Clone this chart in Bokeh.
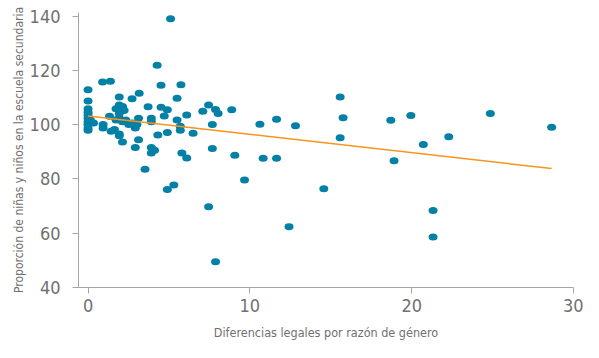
from bokeh.plotting import figure
from bokeh.models import Range1d, FixedTicker, ColumnDataSource
from bokeh.embed import file_html
from bokeh.resources import INLINE

# Data
legal_gap = [4.27, 0.90, 1.38, 4.51, 5.74, 0, 1.93, 2.72, 3.16, 5.50, 0, 1.93, 2.13, 1.73, 3.71, 4.51, 4.90,
             0, 0, 0, 0, 0, 0, 0, 0,
             2.23, 1.93, 1.33, 4.71, 6.10, 7.09, 7.45, 7.88, 8.04, 8.88,
             0.14, 0.34, 0.93, 0.93, 1.73, 1.93, 2.13, 2.33, 2.52, 2.72, 2.92, 3.02, 3.12, 3.91, 3.91, 5.50, 5.70, 5.70, 7.68,
             1.43, 1.63, 1.93, 1.93, 4.31, 4.90, 6.49,
             2.13, 3.12, 2.92, 3.91, 4.11, 3.91, 5.80, 6.10, 7.68, 9.07,
             3.52, 4.90, 5.30, 9.67, 5.10,
             10.62, 11.65, 12.82, 10.82, 11.65, 7.45, 12.42, 7.88,
             15.58, 15.76, 15.58, 14.57, 18.71, 19.95, 20.72, 18.91, 22.29, 24.86, 28.65, 21.32, 21.32]

ratio = [121.9, 115.7, 116.0, 114.5, 114.7, 112.8, 110.2, 109.5, 111.6, 109.7, 108.7, 107.2, 106.7, 105.8, 106.6, 106.4, 105.5,
         105.8, 104.6, 103.5, 102.3, 101.1, 100.0, 98.8, 97.9,
         105.2, 104.1, 103.1, 103.2, 103.5, 104.9, 107.2, 105.6, 104.1, 105.5,
         101.7, 100.6, 100.0, 98.8, 101.7, 102.3, 101.1, 101.7, 100.0, 100.6, 98.8, 100.0, 102.3, 102.3, 101.1, 101.7, 99.4, 97.9, 100.0,
         97.6, 98.2, 96.5, 95.9, 96.2, 97.1, 96.8,
         93.6, 94.4, 91.6, 91.6, 90.6, 89.5, 89.5, 87.7, 91.2, 88.7,
         83.6, 76.1, 77.8, 79.6, 139.0,
         100.1, 102.0, 99.6, 87.6, 87.6, 69.7, 62.4, 49.5,
         110.2, 102.5, 95.2, 76.4, 101.6, 103.4, 92.7, 86.7, 95.5, 104.1, 99.0, 68.4, 58.6]

trend_x = [0, 28.65]
trend_y = [103.2, 83.8]

x_ticks = [0, 10, 20, 30]
y_ticks = [40, 60, 80, 100, 120, 140]

x_title = "Diferencias legales por razón de género"
y_title = "Proporción de niñas y niños en la escuela secundaria"

FONT = "DejaVu Sans Condensed"
AXIS_COLOR = "#a6a6a6"
TEXT_COLOR = "#707070"

p = figure(width=583, height=342, output_backend="svg", toolbar_location=None,
           x_range=Range1d(-0.59, 30.0), y_range=Range1d(40, 141.3),
           min_border_left=78, min_border_right=10, min_border_top=12, min_border_bottom=53)

p.outline_line_color = None
p.grid.visible = False
p.background_fill_color = "white"
p.border_fill_color = "white"

src = ColumnDataSource(dict(x=legal_gap, y=ratio))
p.ellipse(x="x", y="y", width=9, height=7, width_units="screen", height_units="screen",
          source=src, fill_color="#0380a6", line_color=None)

p.line(trend_x, trend_y, line_color="#f7941d", line_width=1.5)

for ax, ticks in ((p.xaxis[0], x_ticks), (p.yaxis[0], y_ticks)):
    ax.ticker = FixedTicker(ticks=ticks)
    ax.minor_tick_line_color = None
    ax.axis_line_color = AXIS_COLOR
    ax.major_tick_line_color = AXIS_COLOR
    ax.major_tick_out = 6
    ax.major_tick_in = 0
    ax.major_label_text_font = FONT
    ax.major_label_text_font_size = "18px"
    ax.major_label_text_color = TEXT_COLOR
    ax.axis_label_text_font = FONT
    ax.axis_label_text_font_style = "normal"
    ax.axis_label_text_color = TEXT_COLOR

p.xaxis[0].axis_label = x_title
p.yaxis[0].axis_label = y_title
p.xaxis[0].axis_label_text_font_size = "12.5px"
p.yaxis[0].axis_label_text_font_size = "12px"
p.xaxis[0].major_label_standoff = 5
p.xaxis[0].axis_label_standoff = 10
p.yaxis[0].major_label_standoff = 12
p.yaxis[0].axis_label_standoff = 1

open("out.html", "w").write(file_html(p, INLINE))
